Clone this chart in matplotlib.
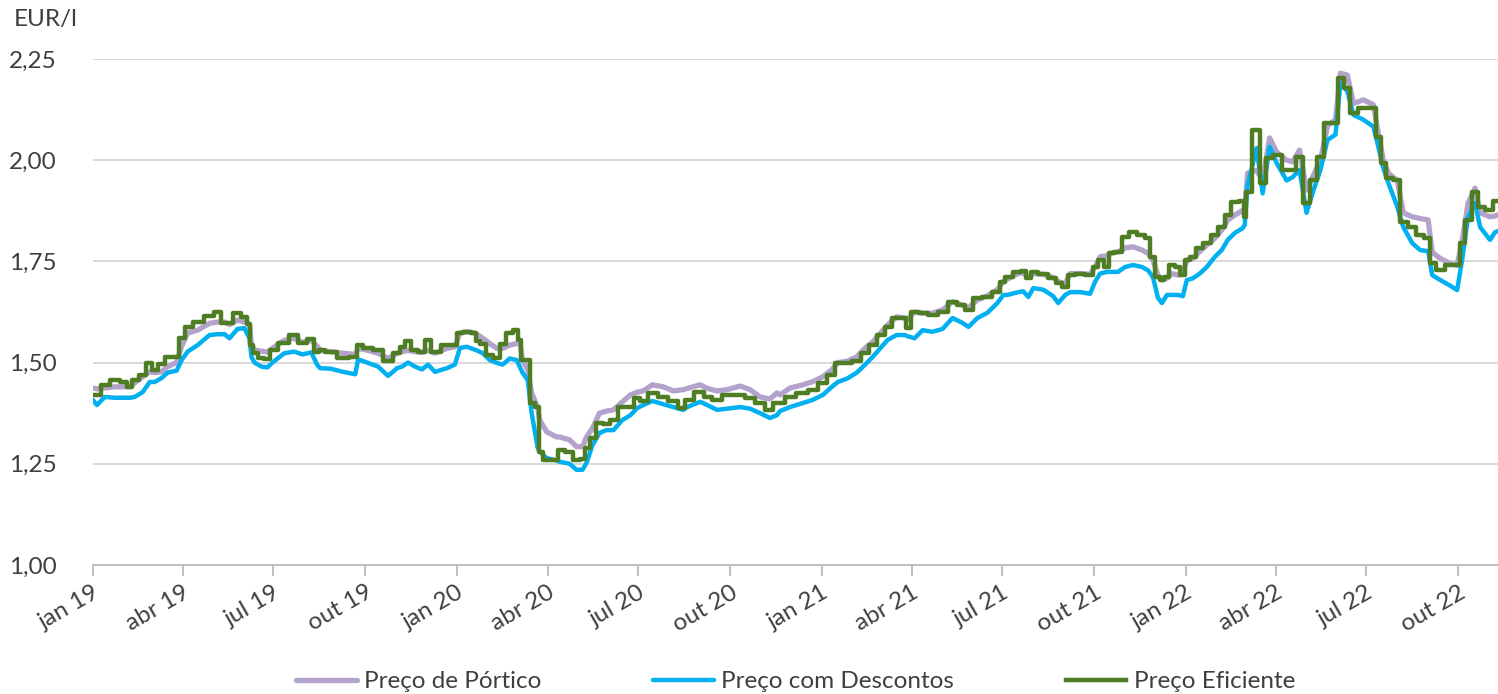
import matplotlib
matplotlib.use('Agg')
import matplotlib.pyplot as plt
import matplotlib.dates as mdates
import matplotlib.ticker as mticker
import pandas as pd

# dates (irregular, one per visible change)
dates = [
    "2019-01-01", "2019-01-05", "2019-01-13", "2019-01-23", "2019-02-02", "2019-02-07",
    "2019-02-12", "2019-02-20", "2019-02-27", "2019-03-04", "2019-03-11", "2019-03-17",
    "2019-03-26", "2019-03-31", "2019-04-06", "2019-04-16", "2019-04-28", "2019-05-06",
    "2019-05-13", "2019-05-18", "2019-05-26", "2019-06-02", "2019-06-07", "2019-06-09",
    "2019-06-12", "2019-06-19", "2019-06-25", "2019-06-30", "2019-07-12", "2019-07-22",
    "2019-07-30", "2019-08-08", "2019-08-14", "2019-08-17", "2019-08-27", "2019-09-09",
    "2019-09-21", "2019-09-24", "2019-10-04", "2019-10-14", "2019-10-24", "2019-11-02",
    "2019-11-07", "2019-11-13", "2019-11-20", "2019-11-27", "2019-12-03", "2019-12-10",
    "2019-12-22", "2019-12-30", "2020-01-04", "2020-01-11", "2020-01-19", "2020-01-21",
    "2020-01-27", "2020-02-03", "2020-02-10", "2020-02-16", "2020-02-23", "2020-03-01",
    "2020-03-04", "2020-03-07", "2020-03-12", "2020-03-16", "2020-03-22", "2020-03-24",
    "2020-03-31", "2020-04-10", "2020-04-13", "2020-04-23", "2020-04-30", "2020-05-06",
    "2020-05-10", "2020-05-16", "2020-05-23", "2020-05-30", "2020-06-06", "2020-06-15",
    "2020-06-23", "2020-06-30", "2020-07-06", "2020-07-15", "2020-07-26", "2020-08-05",
    "2020-08-15", "2020-08-19", "2020-09-01", "2020-09-08", "2020-09-18", "2020-09-28",
    "2020-10-11", "2020-10-21", "2020-10-31", "2020-11-10", "2020-11-17", "2020-11-20",
    "2020-11-30", "2020-12-13", "2020-12-23", "2021-01-02", "2021-01-11", "2021-01-17",
    "2021-01-26", "2021-02-05", "2021-02-13", "2021-02-21", "2021-03-02", "2021-03-08",
    "2021-03-17", "2021-03-25", "2021-03-28", "2021-04-04", "2021-04-12", "2021-04-22",
    "2021-05-02", "2021-05-12", "2021-05-22", "2021-05-28", "2021-06-06", "2021-06-16",
    "2021-06-26", "2021-07-02", "2021-07-06", "2021-07-17", "2021-07-22", "2021-07-27",
    "2021-08-01", "2021-08-11", "2021-08-21", "2021-08-26", "2021-09-02", "2021-09-07",
    "2021-09-17", "2021-09-27", "2021-10-02", "2021-10-07", "2021-10-14", "2021-10-17",
    "2021-10-25", "2021-11-01", "2021-11-09", "2021-11-18", "2021-11-24", "2021-11-29",
    "2021-12-04", "2021-12-08", "2021-12-13", "2021-12-18", "2021-12-24", "2021-12-29",
    "2022-01-02", "2022-01-08", "2022-01-15", "2022-01-22", "2022-01-30", "2022-02-06",
    "2022-02-12", "2022-02-19", "2022-02-27", "2022-03-01", "2022-03-04", "2022-03-13",
    "2022-03-19", "2022-03-26", "2022-04-02", "2022-04-12", "2022-04-18", "2022-04-25",
    "2022-05-02", "2022-05-09", "2022-05-16", "2022-05-23", "2022-05-31", "2022-06-05",
    "2022-06-12", "2022-06-18", "2022-06-28", "2022-07-08", "2022-07-13", "2022-07-18",
    "2022-07-23", "2022-08-01", "2022-08-07", "2022-08-16", "2022-08-24", "2022-09-01",
    "2022-09-05", "2022-09-13", "2022-09-23", "2022-09-30", "2022-10-05", "2022-10-11",
    "2022-10-18", "2022-10-23", "2022-11-02", "2022-11-07", "2022-11-10",
]

preco_portico = [
    1.437, 1.435, 1.437, 1.440, 1.440, 1.440, 1.450, 1.465, 1.477, 1.475, 1.477, 1.490,
    1.500, 1.540, 1.573, 1.580, 1.597, 1.600, 1.600, 1.594, 1.605, 1.600, 1.595, 1.543,
    1.531, 1.528, 1.526, 1.535, 1.555, 1.560, 1.550, 1.555, 1.540, 1.530, 1.527, 1.523,
    1.520, 1.535, 1.530, 1.523, 1.510, 1.523, 1.527, 1.530, 1.527, 1.525, 1.530, 1.523,
    1.535, 1.539, 1.573, 1.576, 1.573, 1.570, 1.560, 1.547, 1.535, 1.535, 1.543, 1.547,
    1.550, 1.506, 1.482, 1.424, 1.390, 1.358, 1.329, 1.316, 1.316, 1.309, 1.292, 1.292,
    1.316, 1.338, 1.375, 1.380, 1.383, 1.403, 1.420, 1.427, 1.430, 1.445, 1.440, 1.430,
    1.433, 1.436, 1.445, 1.436, 1.430, 1.433, 1.442, 1.433, 1.415, 1.410, 1.425, 1.420,
    1.437, 1.445, 1.453, 1.465, 1.482, 1.500, 1.503, 1.514, 1.535, 1.551, 1.576, 1.593,
    1.613, 1.610, 1.607, 1.625, 1.622, 1.622, 1.630, 1.650, 1.642, 1.635, 1.655, 1.665,
    1.680, 1.700, 1.706, 1.720, 1.722, 1.710, 1.720, 1.718, 1.710, 1.700, 1.695, 1.720,
    1.720, 1.718, 1.736, 1.761, 1.764, 1.770, 1.773, 1.783, 1.786, 1.778, 1.770, 1.753,
    1.716, 1.704, 1.708, 1.720, 1.716, 1.720, 1.753, 1.757, 1.775, 1.790, 1.807, 1.827,
    1.852, 1.864, 1.876, 1.880, 1.968, 1.975, 1.950, 2.055, 2.020, 2.000, 1.996, 2.025,
    1.926, 1.963, 2.000, 2.085, 2.100, 2.215, 2.210, 2.140, 2.149, 2.137, 2.066, 2.000,
    1.968, 1.950, 1.870, 1.860, 1.856, 1.852, 1.773, 1.757, 1.745, 1.740, 1.800, 1.894,
    1.931, 1.870, 1.860, 1.862, 1.865,
]

preco_descontos = [
    1.408, 1.395, 1.415, 1.413, 1.413, 1.413, 1.415, 1.427, 1.452, 1.452, 1.462, 1.475,
    1.480, 1.506, 1.527, 1.543, 1.568, 1.570, 1.570, 1.560, 1.583, 1.585, 1.560, 1.514,
    1.500, 1.490, 1.488, 1.500, 1.523, 1.527, 1.520, 1.525, 1.494, 1.486, 1.485, 1.477,
    1.471, 1.508, 1.499, 1.490, 1.467, 1.486, 1.490, 1.500, 1.490, 1.483, 1.495, 1.477,
    1.486, 1.495, 1.536, 1.539, 1.532, 1.530, 1.523, 1.506, 1.499, 1.495, 1.510, 1.506,
    1.490, 1.474, 1.457, 1.375, 1.290, 1.280, 1.264, 1.258, 1.255, 1.250, 1.235, 1.235,
    1.252, 1.296, 1.326, 1.333, 1.333, 1.358, 1.370, 1.388, 1.395, 1.405, 1.397, 1.390,
    1.383, 1.390, 1.403, 1.395, 1.383, 1.386, 1.390, 1.386, 1.375, 1.363, 1.370, 1.380,
    1.390, 1.400, 1.408, 1.420, 1.440, 1.452, 1.460, 1.475, 1.494, 1.514, 1.539, 1.556,
    1.568, 1.568, 1.565, 1.560, 1.580, 1.576, 1.583, 1.610, 1.598, 1.588, 1.610, 1.623,
    1.647, 1.667, 1.667, 1.674, 1.676, 1.662, 1.684, 1.680, 1.664, 1.647, 1.667, 1.674,
    1.674, 1.670, 1.700, 1.720, 1.724, 1.724, 1.724, 1.736, 1.741, 1.736, 1.728, 1.711,
    1.660, 1.647, 1.667, 1.667, 1.667, 1.664, 1.704, 1.708, 1.720, 1.736, 1.761, 1.778,
    1.803, 1.820, 1.832, 1.840, 1.939, 2.030, 1.918, 2.033, 1.993, 1.950, 1.958, 1.976,
    1.870, 1.926, 1.976, 2.050, 2.063, 2.190, 2.170, 2.112, 2.100, 2.083, 2.033, 1.980,
    1.944, 1.885, 1.835, 1.795, 1.778, 1.775, 1.716, 1.704, 1.690, 1.679, 1.753, 1.860,
    1.894, 1.835, 1.803, 1.822, 1.825,
]

preco_eficiente = [
    1.420, 1.420, 1.445, 1.457, 1.452, 1.440, 1.457, 1.470, 1.500, 1.482, 1.497, 1.514,
    1.514, 1.560, 1.588, 1.600, 1.615, 1.625, 1.597, 1.597, 1.622, 1.612, 1.595, 1.543,
    1.524, 1.510, 1.508, 1.530, 1.548, 1.568, 1.548, 1.558, 1.526, 1.532, 1.527, 1.510,
    1.514, 1.543, 1.535, 1.530, 1.505, 1.523, 1.539, 1.552, 1.532, 1.527, 1.556, 1.527,
    1.543, 1.543, 1.573, 1.576, 1.573, 1.552, 1.547, 1.519, 1.510, 1.547, 1.573, 1.580,
    1.556, 1.506, 1.506, 1.400, 1.390, 1.280, 1.260, 1.260, 1.284, 1.280, 1.259, 1.262,
    1.289, 1.313, 1.350, 1.347, 1.358, 1.390, 1.390, 1.413, 1.405, 1.425, 1.415, 1.405,
    1.388, 1.408, 1.427, 1.415, 1.408, 1.420, 1.420, 1.412, 1.400, 1.383, 1.400, 1.400,
    1.415, 1.425, 1.432, 1.450, 1.470, 1.500, 1.500, 1.503, 1.523, 1.543, 1.568, 1.587,
    1.610, 1.610, 1.585, 1.625, 1.622, 1.618, 1.625, 1.650, 1.642, 1.630, 1.660, 1.662,
    1.675, 1.700, 1.711, 1.724, 1.726, 1.708, 1.724, 1.720, 1.708, 1.697, 1.687, 1.716,
    1.720, 1.716, 1.736, 1.753, 1.736, 1.770, 1.773, 1.810, 1.823, 1.815, 1.808, 1.761,
    1.711, 1.704, 1.711, 1.741, 1.736, 1.716, 1.753, 1.761, 1.783, 1.795, 1.815, 1.835,
    1.865, 1.897, 1.900, 1.860, 1.921, 2.075, 1.944, 2.005, 2.013, 1.976, 1.976, 2.008,
    1.894, 1.950, 2.008, 2.092, 2.092, 2.203, 2.178, 2.117, 2.128, 2.128, 2.057, 1.993,
    1.956, 1.950, 1.847, 1.835, 1.815, 1.808, 1.746, 1.729, 1.741, 1.741, 1.795, 1.852,
    1.921, 1.885, 1.877, 1.900, 1.900,
]

labels = ["Preço de Pórtico", "Preço com Descontos", "Preço Eficiente"]
colors = ["#b3a3cc", "#00b0f0", "#4f7d23"]

plt.rcParams['font.family'] = ['Lato', 'DejaVu Sans']
text_color = "#3f3f3f"
fs = 17.5

x = pd.to_datetime(dates)

fig = plt.figure(figsize=(14.98, 6.94), dpi=100)
ax = fig.add_axes([0.062, 0.186, 0.938, 0.729])

ax.plot(x, preco_portico, color=colors[0], lw=3.8, label=labels[0], solid_capstyle='round')
ax.plot(x, preco_descontos, color=colors[1], lw=3.2, label=labels[1], solid_capstyle='round')
ax.plot(x, preco_eficiente, color=colors[2], lw=3.2, label=labels[2], drawstyle='steps-mid')

ax.set_ylim(1.0, 2.25)
ax.set_xlim(pd.Timestamp("2019-01-01"), pd.Timestamp("2022-11-10"))

ax.set_yticks([1.0, 1.25, 1.5, 1.75, 2.0, 2.25])
ax.yaxis.set_major_formatter(mticker.FuncFormatter(lambda v, p: f"{v:.2f}".replace(".", ",")))
ax.grid(axis='y', color='#d9d9d9', lw=1.4)
ax.set_axisbelow(True)

months = ["jan", "fev", "mar", "abr", "mai", "jun", "jul", "ago", "set", "out", "nov", "dez"]
ax.xaxis.set_major_locator(mdates.MonthLocator(bymonth=[1, 4, 7, 10]))
ax.xaxis.set_major_formatter(mticker.FuncFormatter(
    lambda v, p: f"{months[mdates.num2date(v).month - 1]} {mdates.num2date(v).year % 100:02d}"))

for side in ['top', 'right', 'left']:
    ax.spines[side].set_visible(False)
ax.spines['bottom'].set_color('#bfbfbf')
ax.spines['bottom'].set_linewidth(1.4)

ax.tick_params(axis='y', length=0, pad=26, labelsize=fs, labelcolor=text_color)
ax.tick_params(axis='x', length=8, width=1.4, color='#bfbfbf', pad=4,
               labelsize=fs, labelcolor=text_color)
for lab in ax.get_xticklabels():
    lab.set_rotation(30)
    lab.set_ha('right')
    lab.set_rotation_mode('anchor')

fig.text(0.009, 0.972, "EUR/l", fontsize=fs, color=text_color, va='center', ha='left')

leg = ax.legend(loc='lower center', bbox_to_anchor=(0.5, -0.295), ncol=3, frameon=False,
                fontsize=fs, handlelength=2.5, handletextpad=0.3, columnspacing=4.6)
for t in leg.get_texts():
    t.set_color(text_color)

fig.savefig("out.png", dpi=100)
